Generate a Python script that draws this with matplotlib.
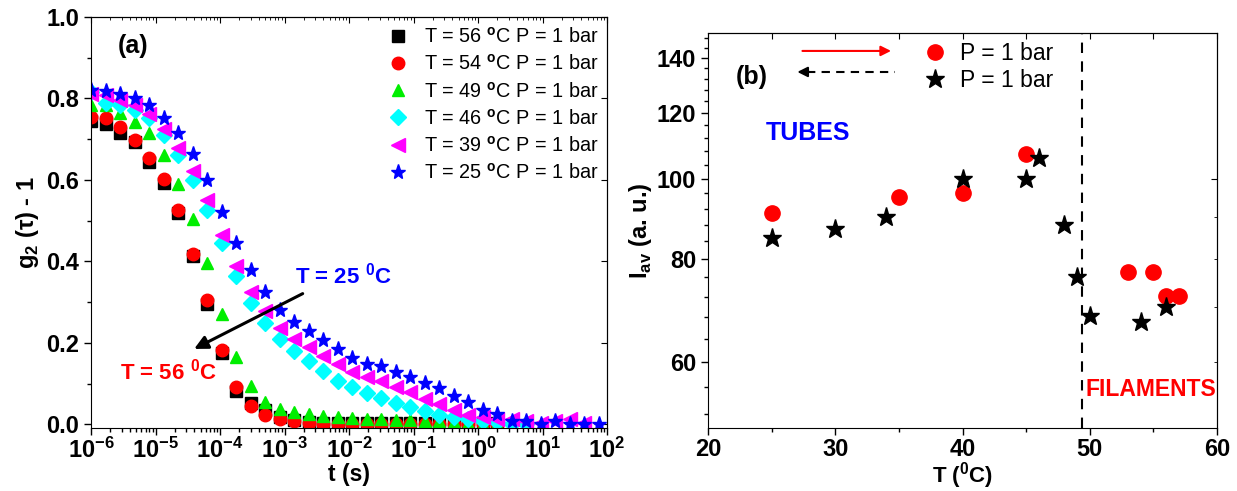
import math
import matplotlib
matplotlib.use('Agg')
import matplotlib.pyplot as plt
from matplotlib.ticker import FixedLocator, LogLocator, NullFormatter, FuncFormatter, FormatStrFormatter, MultipleLocator

plt.rcParams['font.family'] = 'Liberation Sans'
plt.rcParams['font.weight'] = 'bold'
plt.rcParams['axes.labelweight'] = 'bold'
plt.rcParams['mathtext.fontset'] = 'custom'
plt.rcParams['mathtext.rm'] = 'Liberation Sans:bold'
plt.rcParams['mathtext.bf'] = 'Liberation Sans:bold'
plt.rcParams['mathtext.sf'] = 'Liberation Sans'

# ---- panel (a): correlation functions ----
t = [1.00e-6, 1.68e-6, 2.82e-6, 4.73e-6, 7.94e-6, 1.33e-5, 2.24e-5, 3.76e-5, 6.31e-5,
     1.06e-4, 1.78e-4, 2.99e-4, 5.01e-4, 8.41e-4, 1.41e-3, 2.37e-3, 3.98e-3, 6.68e-3,
     1.12e-2, 1.88e-2, 3.16e-2, 5.31e-2, 8.91e-2, 0.150, 0.251, 0.422, 0.708, 1.19,
     2.00, 3.35, 5.62, 9.44, 15.8, 26.6, 44.7, 75.0]

g56 = [0.745, 0.738, 0.715, 0.692, 0.645, 0.592, 0.518, 0.413, 0.296, 0.174, 0.083,
       0.053, 0.034, 0.018, 0.010, 0.006, 0.004, 0.003, 0.003, 0.003, 0.003, 0.003,
       0.003, 0.003, 0.003, 0.003, 0.003, 0.003, 0.003]
g54 = [0.755, 0.752, 0.730, 0.698, 0.655, 0.602, 0.526, 0.419, 0.305, 0.183, 0.092,
       0.044, 0.024, 0.012, 0.007, 0.004, 0.002, 0.0, 0.0, 0.0, 0.0, 0.0, 0.0, 0.0,
       0.0, 0.0, 0.0, 0.0, 0.0]
g49 = [0.785, 0.784, 0.764, 0.743, 0.714, 0.660, 0.590, 0.503, 0.397, 0.272, 0.166,
       0.095, 0.055, 0.038, 0.030, 0.025, 0.021, 0.018, 0.016, 0.014, 0.012, 0.011,
       0.010, 0.008, 0.007, 0.006, 0.004, 0.002, 0.0]
g46 = [0.817, 0.790, 0.785, 0.772, 0.752, 0.711, 0.662, 0.600, 0.526, 0.444, 0.363,
       0.298, 0.248, 0.209, 0.180, 0.156, 0.130, 0.106, 0.091, 0.077, 0.065, 0.053,
       0.042, 0.032, 0.024, 0.018, 0.012, 0.008, 0.005, 0.002, 0.0]
g39 = [0.810, 0.808, 0.796, 0.783, 0.763, 0.724, 0.678, 0.621, 0.550, 0.466, 0.389,
       0.324, 0.278, 0.237, 0.209, 0.189, 0.168, 0.149, 0.129, 0.116, 0.106, 0.091,
       0.080, 0.063, 0.049, 0.034, 0.024, 0.018, 0.014, 0.012, 0.009, 0.004, 0.008,
       0.012, 0.004]
g25 = [0.820, 0.818, 0.812, 0.801, 0.784, 0.753, 0.714, 0.664, 0.600, 0.522, 0.444,
       0.380, 0.324, 0.281, 0.252, 0.229, 0.208, 0.186, 0.164, 0.147, 0.143, 0.128,
       0.116, 0.102, 0.088, 0.069, 0.055, 0.034, 0.025, 0.009, 0.007, 0.001, 0.009,
       0.001, 0.001, 0.0]

series = [(g56, 's', 'black', 8, '56'),
          (g54, 'o', 'red', 9, '54'),
          (g49, '^', '#00ee00', 9, '49'),
          (g46, 'D', '#00ffff', 8, '46'),
          (g39, '<', '#ff00ff', 10, '39'),
          (g25, '*', '#0000ff', 11, '25')]

# ---- panel (b): average intensity ----
T_heat = [25, 35, 40, 45, 53, 55, 56, 57]
I_heat = [91.0, 95.0, 96.0, 107.1, 77.1, 77.1, 72.1, 72.1]
T_cool = [25, 30, 34, 40, 45, 46, 48, 49, 50, 54, 56]
I_cool = [84.9, 86.9, 90.0, 100.0, 100.0, 106.0, 88.0, 76.2, 68.2, 67.1, 70.1]

fig = plt.figure(figsize=(12.37, 4.91), dpi=100)
ax1 = fig.add_axes([0.0736, 0.1283, 0.4171, 0.8371])
ax2 = fig.add_axes([0.5724, 0.1283, 0.4114, 0.8045])

for y, m, c, ms, T in series:
    ax1.plot(t[:len(y)], y, ls='none', marker=m, color=c, ms=ms,
             label='T = ' + T + r' $^{\mathsf{o}}$C P = 1 bar')

ax1.set_xscale('log')
ax1.set_xlim(1e-6, 1e2)
ax1.set_ylim(-0.009, 1.0)
ax1.xaxis.set_major_locator(LogLocator(base=10, numticks=20))
ax1.xaxis.set_minor_locator(LogLocator(base=10, subs=range(2, 10), numticks=20))
ax1.xaxis.set_minor_formatter(NullFormatter())
ax1.xaxis.set_major_formatter(FuncFormatter(lambda v, p: r'$\mathbf{10^{%d}}$' % round(math.log10(v))))
ax1.yaxis.set_major_locator(MultipleLocator(0.2))
ax1.yaxis.set_minor_locator(MultipleLocator(0.1))
ax1.yaxis.set_major_formatter(FormatStrFormatter('%.1f'))
ax1.tick_params(which='both', direction='out', labelsize=17, width=1)
ax1.tick_params(axis='x', pad=2)
ax1.tick_params(which='major', length=5)
ax1.tick_params(which='minor', length=3)
ax1.set_xlabel('t (s)', fontsize=16.5)
ax1.xaxis.set_label_coords(0.5, -0.086)
ax1.set_ylabel(r'g$_{\mathbf{2}}$ (τ) - 1', fontsize=17, labelpad=4)

ax1.legend(loc='upper right', frameon=False, prop={'weight': 'normal', 'size': 14.3},
           handlelength=1.0, handletextpad=0.8, labelspacing=0.36,
           borderaxespad=0.0, bbox_to_anchor=(0.998, 0.995))

ax1.text(10**-5.58, 0.93, '(a)', fontsize=18, va='center')
ax1.text(10**-2.84, 0.365, r'T = 25 $^{\mathbf{0}}$C', color='#0000ff', fontsize=16, va='center')
ax1.text(10**-5.55, 0.13, r'T = 56 $^{\mathbf{0}}$C', color='red', fontsize=16, va='center')
ax1.annotate('', xy=(10**-4.44, 0.182), xytext=(10**-2.68, 0.324),
             arrowprops=dict(arrowstyle='-|>', color='black', lw=2.2, mutation_scale=20))

for sec in (ax1.secondary_xaxis('top'), ax1.secondary_yaxis('right')):
    sec.tick_params(which='both', direction='in', labeltop=False, labelright=False)
    sec.tick_params(which='major', length=4)
    sec.tick_params(which='minor', length=2)

# panel (b)
ax2.plot(T_heat, I_heat, ls='none', marker='o', color='red', ms=11, label='P = 1 bar')
ax2.plot(T_cool, I_cool, ls='none', marker='*', color='black', ms=14, label='P = 1 bar')
ax2.set_yscale('log')
ax2.set_xlim(20, 60)
ax2.set_ylim(50, 150)
ax2.xaxis.set_major_locator(MultipleLocator(10))
ax2.xaxis.set_minor_locator(MultipleLocator(5))
ax2.yaxis.set_major_locator(FixedLocator([60, 80, 100, 120, 140]))
ax2.yaxis.set_minor_locator(FixedLocator([52, 56, 64, 68, 72, 76, 84, 88, 92, 96,
                                          104, 108, 112, 116, 124, 128, 132, 136, 144, 148]))
ax2.yaxis.set_major_formatter(FormatStrFormatter('%d'))
ax2.yaxis.set_minor_formatter(NullFormatter())
ax2.tick_params(which='both', direction='out', labelsize=17, width=1)
ax2.tick_params(axis='x', pad=2)
ax2.tick_params(which='major', length=5)
ax2.tick_params(which='minor', length=3)
ax2.set_xlabel(r'T ($^{\mathbf{0}}$C)', fontsize=16)
ax2.xaxis.set_label_coords(0.5, -0.08)
ax2.set_ylabel(r'I$_{\mathbf{av}}$ (a. u.)', fontsize=17, labelpad=2)

ax2.axvline(49.4, color='black', ls=(0, (5, 4)), lw=1.5)
ax2.legend(loc='upper left', frameon=False, prop={'weight': 'normal', 'size': 16.5},
           handlelength=1.0, handletextpad=0.6, labelspacing=0.15,
           borderaxespad=0.0, bbox_to_anchor=(0.405, 1.0))
ax2.annotate('', xy=(34.6, 142.7), xytext=(27.2, 142.7),
             arrowprops=dict(arrowstyle='-|>', color='red', lw=1.5, mutation_scale=15))
ax2.plot([27.8, 34.7], [134.6, 134.6], color='black', ls=(0, (4, 3)), lw=1.5)
ax2.annotate('', xy=(26.8, 134.6), xytext=(28.2, 134.6),
             arrowprops=dict(arrowstyle='-|>', color='black', lw=1.5, mutation_scale=15))
ax2.text(22.2, 132.7, '(b)', fontsize=18, va='center')
ax2.text(24.5, 113.6, 'TUBES', color='#0000ff', fontsize=18, va='center')
ax2.text(49.65, 55.7, 'FILAMENTS', color='red', fontsize=16.5, va='center')

for sec in (ax2.secondary_xaxis('top'), ax2.secondary_yaxis('right')):
    sec.tick_params(which='both', direction='in', labeltop=False, labelright=False)
    sec.tick_params(which='major', length=4)
    sec.tick_params(which='minor', length=2)

fig.savefig('out.png', dpi=100)
